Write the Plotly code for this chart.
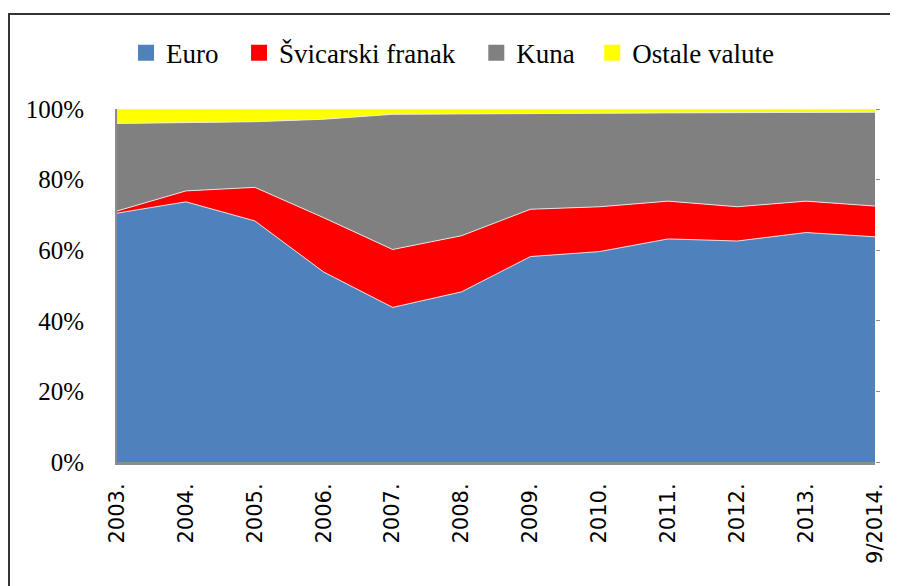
import plotly.graph_objects as go

years = ["2003.", "2004.", "2005.", "2006.", "2007.", "2008.",
         "2009.", "2010.", "2011.", "2012.", "2013.", "9/2014."]
euro = [70.5, 73.7, 68.3, 53.8, 43.8, 48.2, 58.2, 59.6, 63.2, 62.6, 65.0, 63.8]
chf = [0.6, 3.1, 9.5, 15.4, 16.4, 15.9, 13.4, 12.7, 10.7, 9.7, 8.9, 8.7]
kuna = [24.8, 19.4, 18.6, 27.9, 38.3, 34.5, 27.2, 26.5, 25.0, 26.7, 25.3, 26.6]
ostale = [4.1, 3.8, 3.6, 2.9, 1.5, 1.4, 1.2, 1.2, 1.1, 1.0, 0.8, 0.9]
y_ticks = [0, 20, 40, 60, 80, 100]

series = [
    ("Euro", euro, "#4F81BD"),
    ("Švicarski franak", chf, "#FF0000"),
    ("Kuna", kuna, "#808080"),
    ("Ostale valute", ostale, "#FFFF00"),
]
legend_ids = ["legend", "legend2", "legend3", "legend4"]
legend_x = [0.0119, 0.161, 0.474, 0.627]

fig = go.Figure()
for name, vals, color in series:
    fig.add_trace(
        go.Scatter(
            x=years,
            y=vals,
            name=name,
            mode="lines",
            stackgroup="one",
            line=dict(color="rgba(235,235,235,0.9)", width=1),
            fillcolor=color,
            showlegend=False,
        )
    )

# square legend keys, one legend per entry so the spacing can follow the original
# (placed on y2 so the right-hand tick axis gets drawn)
for (name, vals, color), lid in zip(series, legend_ids):
    fig.add_trace(
        go.Scatter(
            x=[None], y=[None],
            name=name,
            mode="markers",
            marker=dict(symbol="square", size=16, color=color),
            legend=lid,
            yaxis="y2",
        )
    )

legend_style = dict(
    orientation="h",
    xanchor="left",
    y=1.158,
    yanchor="middle",
    font=dict(family="Liberation Serif", size=27, color="black"),
    bgcolor="rgba(0,0,0,0)",
)

# page body has an 8px margin, so the figure is shrunk and shifted to fit
fig.update_layout(
    width=890,
    height=578,
    margin=dict(l=109, r=23, t=101, b=124),
    paper_bgcolor="white",
    plot_bgcolor="white",
    font=dict(family="Liberation Serif", color="black"),
    legend=dict(legend_style, x=legend_x[0]),
    legend2=dict(legend_style, x=legend_x[1]),
    legend3=dict(legend_style, x=legend_x[2]),
    legend4=dict(legend_style, x=legend_x[3]),
    xaxis=dict(
        type="category",
        range=[0, 11],
        tickangle=-90,
        tickfont=dict(family="DejaVu Sans", size=21, color="black"),
        showline=True,
        linecolor="#8c8c8c",
        linewidth=3,
        showgrid=False,
        ticks="outside",
        ticklen=10,
        tickcolor="rgba(0,0,0,0)",
    ),
    yaxis=dict(
        range=[0, 100],
        tickmode="array",
        tickvals=y_ticks,
        ticktext=[f"{v}%" for v in y_ticks],
        tickfont=dict(family="Liberation Serif", size=25, color="black"),
        showline=True,
        linecolor="#8c8c8c",
        linewidth=2,
        showgrid=False,
        zeroline=False,
        ticks="outside",
        ticklen=26,
        tickcolor="rgba(0,0,0,0)",
    ),
    yaxis2=dict(
        overlaying="y",
        side="right",
        anchor="x",
        range=[0, 100],
        tickmode="array",
        tickvals=y_ticks,
        showticklabels=False,
        showgrid=False,
        zeroline=False,
        ticks="outside",
        ticklen=4,
        tickcolor="#8c8c8c",
    ),
)

# outer frame around the chart
fig.add_shape(
    type="rect", xref="paper", yref="paper",
    x0=-0.1425, x1=1.1, y0=-0.5, y1=1.269,
    line=dict(color="#333333", width=2),
)

fig.write_html("out.html")
